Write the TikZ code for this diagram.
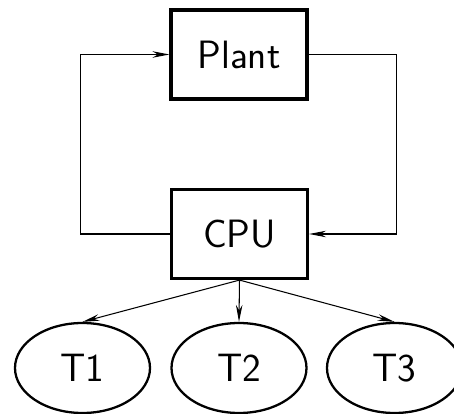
\documentclass[tikz,border=0pt]{standalone}
\usepackage{tikz}
\usetikzlibrary{arrows.meta,positioning,shapes.geometric}
\tikzset{
  blockbox/.style={draw, line width=1.8pt, minimum width=2.72cm, minimum height=1.78cm,
              font=\sffamily\fontsize{22.5}{27}\selectfont, inner sep=4pt},
  taskbox/.style={ellipse, draw, line width=1.3pt, minimum width=2.7cm, minimum height=1.8cm,
              font=\sffamily\fontsize{22.5}{27}\selectfont, inner sep=0pt},
  arr/.style={-{Stealth[length=3.4mm, width=1.3mm, inset=1.1mm]}, line width=0.6pt},
}
\begin{document}
\begin{tikzpicture}
    \useasboundingbox (0,0) rectangle (9.08,8.28);
    \node[blockbox] (plant) at (4.78,7.19) {Plant};
    \node[blockbox] (cpu) at (4.79,3.60) {CPU};
    \node[taskbox] (t1) at (1.65,0.92) {T1};
    \node[taskbox] (t2) at (4.78,0.92) {T2};
    \node[taskbox] (t3) at (7.89,0.92) {T3};
    \draw[arr] (cpu.west) -- ++(-1.79,0) |- (plant.west);
    \draw[arr] (plant.east) -- ++(1.76,0) |- (cpu.east);
    \draw[arr] (cpu.south) -- (t1.north); \draw[arr] (cpu.south) -- (t2.north); \draw[arr] (cpu.south) -- (t3.north);
  \end{tikzpicture}
\end{document}
